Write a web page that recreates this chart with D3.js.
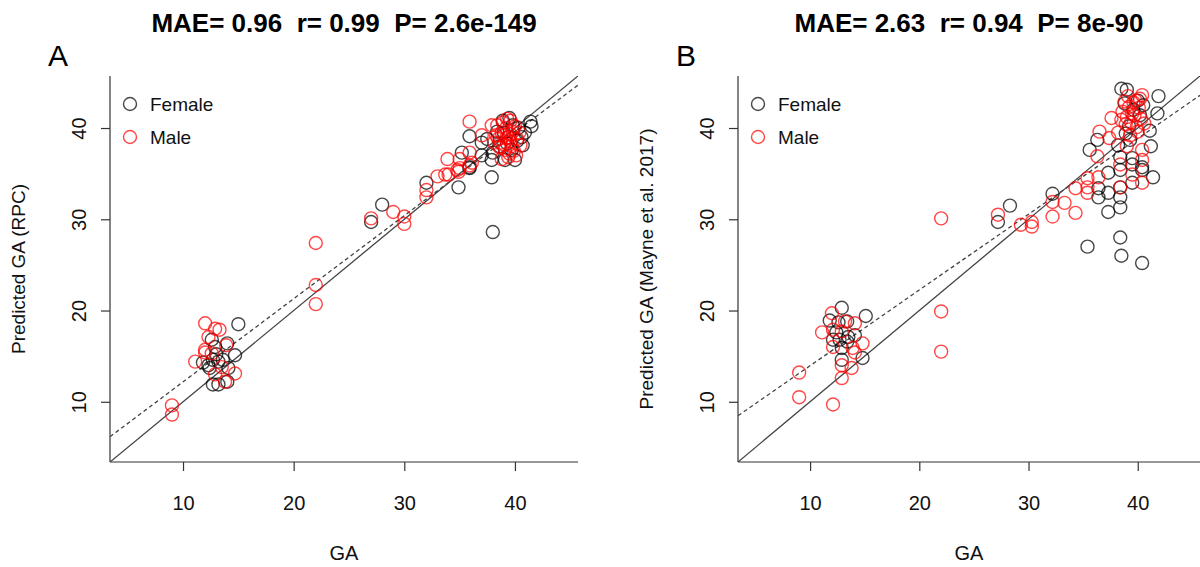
<!DOCTYPE html>
<html>
<head>
<meta charset="utf-8">
<script src="https://cdn.jsdelivr.net/npm/d3@7"></script>
<style>
  html, body { margin: 0; padding: 0; background: #fff; }
  svg { display: block; font-family: "Liberation Sans", Arial, Helvetica, sans-serif; }
</style>
</head>
<body>
<svg id="chart" width="1200" height="567"></svg>
<script>
// ---------------- DATA ----------------
const panelLetters = ["A", "B"];
const titles = ["MAE= 0.96  r= 0.99  P= 2.6e-149", "MAE= 2.63  r= 0.94  P= 8e-90"];
const yTitles = ["Predicted GA (RPC)", "Predicted GA (Mayne et al. 2017)"];
const xTitle = "GA";
const tickValues = [10, 20, 30, 40];
const axisDomain = [3.4, 45.7];
const legendLabels = ["Female", "Male"];
// regression fit [intercept, slope] (dashed line)
const fitA = [3.07, 0.911];
const fitB = [5.65, 0.83];

// Panel A: [GA, predicted GA]
const femaleA = [
  [15.0,18.5],[12.6,16.8],[12.9,16.0],[14.0,16.4],[14.7,15.1],[11.8,14.3],[12.7,14.6],[13.2,14.4],
  [13.6,14.6],[12.4,13.7],[14.1,13.7],[12.7,11.9],[13.2,11.9],[14.0,12.2],[12.3,14.0],[13.0,15.2],
  [27.0,29.7],[28.0,31.6],[32.0,34.0],[34.9,33.5],[35.9,35.6],
  [39.5,41.1],[41.4,40.7],[41.5,40.2],[40.9,39.5],[40.7,38.1],[40.0,36.5],[39.1,36.5],[37.9,36.5],
  [37.9,34.6],[38.0,28.6],[35.2,37.3],[35.9,35.7],[37.0,37.0],[38.0,37.3],[35.9,39.1],[37.0,38.4],
  [39.0,39.5],[39.8,40.3],[38.6,38.0],[40.3,40.0],[39.3,38.3],[38.4,39.6],[40.6,39.0],[39.7,37.6],
  [38.9,40.8],[37.5,38.8],[40.2,38.6]
];
const maleA = [
  [9.0,9.6],[9.0,8.6],[12.0,18.6],[12.3,17.1],[13.3,17.9],[12.9,18.0],[12.0,15.7],[12.0,15.4],
  [11.1,14.4],[13.5,13.8],[14.7,13.1],[12.9,13.0],[13.8,12.2],[13.9,16.2],[12.6,15.3],
  [22.0,27.4],[22.0,22.8],[22.0,20.7],[27.0,30.1],[29.0,30.8],[30.0,30.3],[30.0,29.5],
  [32.0,33.2],[32.0,32.4],[33.0,34.7],[34.0,34.9],[34.9,35.2],[35.0,35.6],[35.9,35.9],
  [35.9,40.7],[37.0,39.2],[37.9,40.3],[33.9,36.6],[35.0,36.6],[35.9,37.3],[36.1,36.2],[34.8,35.4],
  [33.7,34.9],
  [38.5,38.8],[38.8,39.5],[39.0,38.2],[39.2,40.0],[39.4,39.0],[39.6,38.5],[39.8,39.6],[40.0,40.2],
  [39.1,37.6],[38.6,37.9],[39.5,37.2],[40.2,38.8],[38.9,40.6],[39.3,41.0],[38.3,39.2],[40.4,39.5],
  [39.7,38.0],[38.7,38.4],[39.0,39.2],[39.9,37.5],[40.1,37.0],[38.4,40.3],[39.6,40.8],[38.1,38.4],
  [40.5,38.1],[39.4,36.8],[38.8,36.6],[39.2,38.9],[39.6,39.3]
];

// Panel B: [GA, predicted GA]
const femaleB = [
  [12.9,20.3],[11.8,18.9],[12.6,18.7],[13.4,18.8],[15.1,19.4],[12.4,17.6],[14.1,17.3],[12.1,16.8],
  [12.7,16.8],[13.4,16.6],[12.9,15.9],[14.8,14.8],[12.9,14.6],[13.5,17.1],
  [27.2,29.7],[28.3,31.5],[32.2,32.8],
  [38.5,44.3],[39.0,44.2],[41.9,43.5],[38.8,42.7],[41.8,41.6],[36.3,38.7],[35.6,37.6],[38.2,38.1],
  [39.3,38.7],[41.2,38.0],[41.1,39.7],[39.5,36.7],[38.4,36.8],[40.4,35.7],[40.4,35.4],[39.5,36.0],
  [38.4,35.4],[37.3,35.1],[41.4,34.6],[39.5,34.0],[38.4,33.5],[37.3,32.9],[36.4,33.4],[36.4,32.4],
  [38.4,32.4],[38.4,31.3],[37.3,30.8],[38.4,28.0],[35.4,27.0],[38.5,26.0],[40.4,25.2],
  [39.6,42.0],[40.2,41.4],[39.2,40.2],[40.5,42.5],[38.9,39.4],[40.0,43.0]
];
const maleB = [
  [12.0,19.7],[13.2,18.8],[14.1,18.6],[11.1,17.6],[12.1,17.9],[12.9,17.7],[14.8,16.4],[12.1,16.0],
  [13.9,15.9],[14.1,15.4],[12.9,14.0],[13.8,13.7],[12.9,12.6],[9.0,13.2],[9.0,10.5],[12.1,9.7],
  [22.0,30.1],[22.0,19.9],[22.0,15.5],[27.2,30.5],[29.3,29.4],[30.3,29.7],[30.3,29.2],
  [32.2,31.9],[32.2,30.3],[33.3,31.8],[34.3,33.4],[34.3,30.7],
  [35.4,34.5],[35.4,33.5],[35.4,32.9],[36.4,34.6],[38.4,33.5],[40.4,34.0],[39.5,34.9],[38.4,36.0],
  [40.4,36.5],[40.4,37.6],[36.3,36.9],[37.4,38.9],[36.5,39.6],[37.6,41.1],[39.0,38.0],[38.2,39.5],
  [38.8,42.9],[39.2,42.3],[39.5,41.6],[39.8,43.0],[40.1,42.2],[39.0,41.2],[39.4,40.6],[39.9,40.1],
  [40.3,41.0],[38.6,41.8],[39.6,42.8],[40.4,43.6],[39.1,43.5],[38.9,40.4],[40.0,39.6],[39.3,39.2],
  [38.5,40.9],[40.6,40.5],[39.7,41.4],[40.2,43.2]
];

// ---------------- DRAW ----------------
const svg = d3.select("#chart");
const colFemale = "rgba(0,0,0,0.72)";
const colMale = "rgba(255,0,0,0.72)";
const axisCol = "#333";
const FONT = "Liberation Sans, Arial, sans-serif";

const panels = [
  { x0: 110, x1: 578, female: femaleA, male: maleA, fit: fitA },
  { x0: 738, x1: 1200, female: femaleB, male: maleB, fit: fitB }
];
const yTop = 76, yBot = 462;

panels.forEach((p, i) => {
  const x = d3.scaleLinear().domain(axisDomain).range([p.x0, p.x1]);
  const y = d3.scaleLinear().domain(axisDomain).range([yBot, yTop]);
  const g = svg.append("g");
  const cx = (p.x0 + p.x1) / 2;

  const clipId = "clip" + i;
  svg.append("clipPath").attr("id", clipId)
    .append("rect").attr("x", p.x0).attr("y", yTop).attr("width", p.x1 - p.x0).attr("height", yBot - yTop);

  // title
  g.append("text").attr("x", cx).attr("y", 32).attr("text-anchor", "middle")
    .attr("font-size", 26).attr("font-weight", "bold").attr("fill", "#000")
    .style("white-space", "pre").attr("xml:space", "preserve").text(titles[i]);
  // panel letter
  g.append("text").attr("x", p.x0 - 62).attr("y", 66).attr("font-size", 30).attr("fill", "#000")
    .text(panelLetters[i]);

  // axes (L-shaped box)
  g.append("line").attr("x1", p.x0).attr("x2", p.x0).attr("y1", yTop).attr("y2", yBot)
    .attr("stroke", axisCol).attr("stroke-width", 1.2);
  g.append("line").attr("x1", p.x0).attr("x2", p.x1).attr("y1", yBot).attr("y2", yBot)
    .attr("stroke", axisCol).attr("stroke-width", 1.2);

  const xAxis = d3.axisBottom(x).tickValues(tickValues).tickSize(9).tickPadding(25).tickFormat(d3.format("d"));
  const xg = g.append("g").attr("transform", `translate(0,${yBot})`).call(xAxis);
  xg.select(".domain").remove();
  xg.selectAll("line").attr("stroke", axisCol).attr("stroke-width", 1.2);
  xg.selectAll("text").attr("font-size", 20).attr("fill", "#111").attr("font-family", FONT);

  const yAxis = d3.axisLeft(y).tickValues(tickValues).tickSize(9).tickFormat(d3.format("d"));
  const yg = g.append("g").attr("transform", `translate(${p.x0},0)`).call(yAxis);
  yg.select(".domain").remove();
  yg.selectAll("line").attr("stroke", axisCol).attr("stroke-width", 1.2);
  yg.selectAll("text").remove();
  yg.selectAll(".tick").append("text")
    .attr("transform", "translate(-24,0) rotate(-90)")
    .attr("text-anchor", "middle").attr("font-size", 20).attr("fill", "#111")
    .attr("font-family", FONT)
    .text(d => d3.format("d")(d));

  // axis titles
  g.append("text").attr("x", cx).attr("y", 560).attr("text-anchor", "middle")
    .attr("font-size", 20).attr("fill", "#111").text(xTitle);
  g.append("text").attr("transform", `translate(${p.x0 - 85},${(yTop + yBot) / 2}) rotate(-90)`)
    .attr("text-anchor", "middle").attr("font-size", 19).attr("fill", "#111").text(yTitles[i]);

  // lines
  const lg = g.append("g").attr("clip-path", `url(#${clipId})`);
  const d0 = axisDomain[0], d1 = axisDomain[1];
  lg.append("line").attr("x1", x(d0)).attr("y1", y(d0)).attr("x2", x(d1)).attr("y2", y(d1))
    .attr("stroke", "#444").attr("stroke-width", 1.3);
  lg.append("line").attr("x1", x(d0)).attr("y1", y(p.fit[0] + p.fit[1] * d0))
    .attr("x2", x(d1)).attr("y2", y(p.fit[0] + p.fit[1] * d1))
    .attr("stroke", "#444").attr("stroke-width", 1.3).attr("stroke-dasharray", "4,3");

  // points
  const r = 6.5;
  lg.selectAll(".f").data(p.female).join("circle")
    .attr("cx", d => x(d[0])).attr("cy", d => y(d[1])).attr("r", r)
    .attr("fill", "none").attr("stroke", colFemale).attr("stroke-width", 1.4);
  lg.selectAll(".m").data(p.male).join("circle")
    .attr("cx", d => x(d[0])).attr("cy", d => y(d[1])).attr("r", r)
    .attr("fill", "none").attr("stroke", colMale).attr("stroke-width", 1.4);

  // legend
  const legCols = [colFemale, colMale];
  legendLabels.forEach((lab, k) => {
    const ly = 104 + k * 33;
    g.append("circle").attr("cx", p.x0 + 20).attr("cy", ly).attr("r", r)
      .attr("fill", "none").attr("stroke", legCols[k]).attr("stroke-width", 1.4);
    g.append("text").attr("x", p.x0 + 40).attr("y", ly + 7).attr("font-size", 19)
      .attr("fill", "#111").text(lab);
  });
});
</script>
</body>
</html>
